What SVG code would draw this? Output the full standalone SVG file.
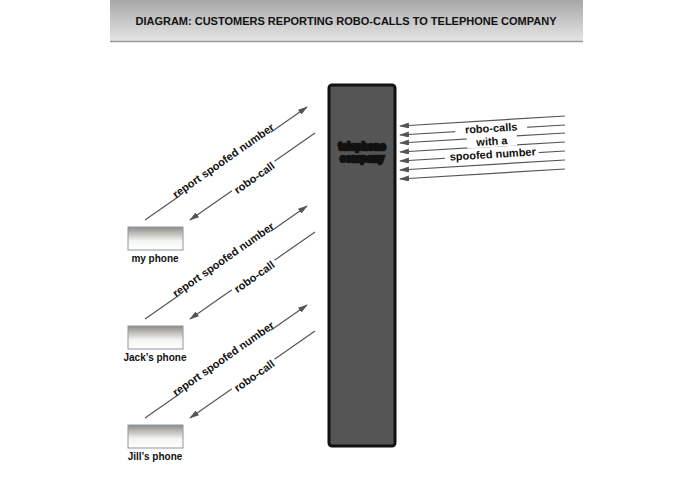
<svg xmlns="http://www.w3.org/2000/svg" width="695" height="494" viewBox="0 0 695 494">
<defs>
<linearGradient id="hg" x1="0" y1="0" x2="0" y2="1"><stop offset="0" stop-color="#a8a8a8"/><stop offset="1" stop-color="#e6e6e6"/></linearGradient>
<linearGradient id="pg" x1="0" y1="0" x2="0" y2="1"><stop offset="0" stop-color="#8e8c84"/><stop offset="0.6" stop-color="#f4f4f2"/><stop offset="1" stop-color="#ffffff"/></linearGradient>
<marker id="ah" markerWidth="10" markerHeight="6" refX="9" refY="3" orient="auto" markerUnits="userSpaceOnUse"><path d="M0,0 L10,3 L0,6 Z" fill="#555"/></marker>
<style>
text{font-family:"Liberation Sans",Arial,sans-serif;font-weight:bold;fill:#111}
.l{stroke:#555;stroke-width:1.2;fill:none}
.lab{font-size:11px;text-anchor:middle}
.bg{fill:#fff}
.ph{fill:url(#pg);stroke:#8a97a8;stroke-width:1}
</style>
</defs>
<rect width="695" height="494" fill="#fff"/>
<g id="header">
<rect x="110" y="0" width="473" height="42" fill="url(#hg)"/>
<line x1="110" y1="41.5" x2="583" y2="41.5" stroke="#999" stroke-width="1.5"/>
<text x="346" y="25" font-size="11" text-anchor="middle">DIAGRAM: CUSTOMERS REPORTING ROBO-CALLS TO TELEPHONE COMPANY</text>
</g>
<g id="telephone-company">
<rect x="329" y="85" width="66" height="361" rx="3" fill="#555" stroke="#111" stroke-width="3"/>
<text x="362" y="150" font-size="10" text-anchor="middle" fill="#fff" stroke="#111" stroke-width="2.5" paint-order="stroke">telephone</text>
<text x="362" y="162" font-size="10" text-anchor="middle" fill="#fff" stroke="#111" stroke-width="2.5" paint-order="stroke">company</text>
</g>
<g id="connectors">
<line class="l" x1="565" y1="116" x2="400" y2="126" marker-end="url(#ah)"/>
<line class="l" x1="565" y1="125" x2="400" y2="135" marker-end="url(#ah)"/>
<line class="l" x1="565" y1="133" x2="400" y2="143" marker-end="url(#ah)"/>
<line class="l" x1="565" y1="142" x2="400" y2="152" marker-end="url(#ah)"/>
<line class="l" x1="565" y1="151" x2="400" y2="161" marker-end="url(#ah)"/>
<line class="l" x1="565" y1="160" x2="400" y2="170" marker-end="url(#ah)"/>
<line class="l" x1="565" y1="169" x2="400" y2="179" marker-end="url(#ah)"/>
<g transform="rotate(-3.5 492 142)">
<rect class="bg" x="456" y="122" width="72" height="12"/>
<rect class="bg" x="467" y="135" width="50" height="12"/>
<rect class="bg" x="444" y="148" width="94" height="12"/>
<text class="lab" x="492" y="132">robo-calls</text>
<text class="lab" x="492" y="145">with a</text>
<text class="lab" x="492" y="158">spoofed number</text>
</g>
<g id="pair1">
<line class="l" x1="145" y1="220" x2="307" y2="107" marker-end="url(#ah)"/>
<line class="l" x1="315" y1="133" x2="190" y2="220" marker-end="url(#ah)"/>
<g transform="rotate(-35 225 163)"><rect class="bg" x="170" y="154" width="110" height="13"/><text class="lab" x="225" y="164">report spoofed number</text></g>
<g transform="rotate(-35 256 180)"><rect class="bg" x="230" y="171" width="52" height="13"/><text class="lab" x="256" y="181">robo-call</text></g>
</g>
<g id="pair2" transform="translate(0 99)">
<line class="l" x1="145" y1="220" x2="307" y2="107" marker-end="url(#ah)"/>
<line class="l" x1="315" y1="133" x2="190" y2="220" marker-end="url(#ah)"/>
<g transform="rotate(-35 225 163)"><rect class="bg" x="170" y="154" width="110" height="13"/><text class="lab" x="225" y="164">report spoofed number</text></g>
<g transform="rotate(-35 256 180)"><rect class="bg" x="230" y="171" width="52" height="13"/><text class="lab" x="256" y="181">robo-call</text></g>
</g>
<g id="pair3" transform="translate(0 198)">
<line class="l" x1="145" y1="220" x2="307" y2="107" marker-end="url(#ah)"/>
<line class="l" x1="315" y1="133" x2="190" y2="220" marker-end="url(#ah)"/>
<g transform="rotate(-35 225 163)"><rect class="bg" x="170" y="154" width="110" height="13"/><text class="lab" x="225" y="164">report spoofed number</text></g>
<g transform="rotate(-35 256 180)"><rect class="bg" x="230" y="171" width="52" height="13"/><text class="lab" x="256" y="181">robo-call</text></g>
</g>
</g>
<g id="my-phone"><rect class="ph" x="128" y="227" width="55" height="23"/><text x="155" y="262" font-size="10" text-anchor="middle">my phone</text></g>
<g id="jacks-phone"><rect class="ph" x="128" y="326" width="55" height="23"/><text x="155" y="361" font-size="10" text-anchor="middle">Jack’s phone</text></g>
<g id="jills-phone"><rect class="ph" x="128" y="425" width="55" height="23"/><text x="155" y="460" font-size="10" text-anchor="middle">Jill’s phone</text></g>
</svg>
